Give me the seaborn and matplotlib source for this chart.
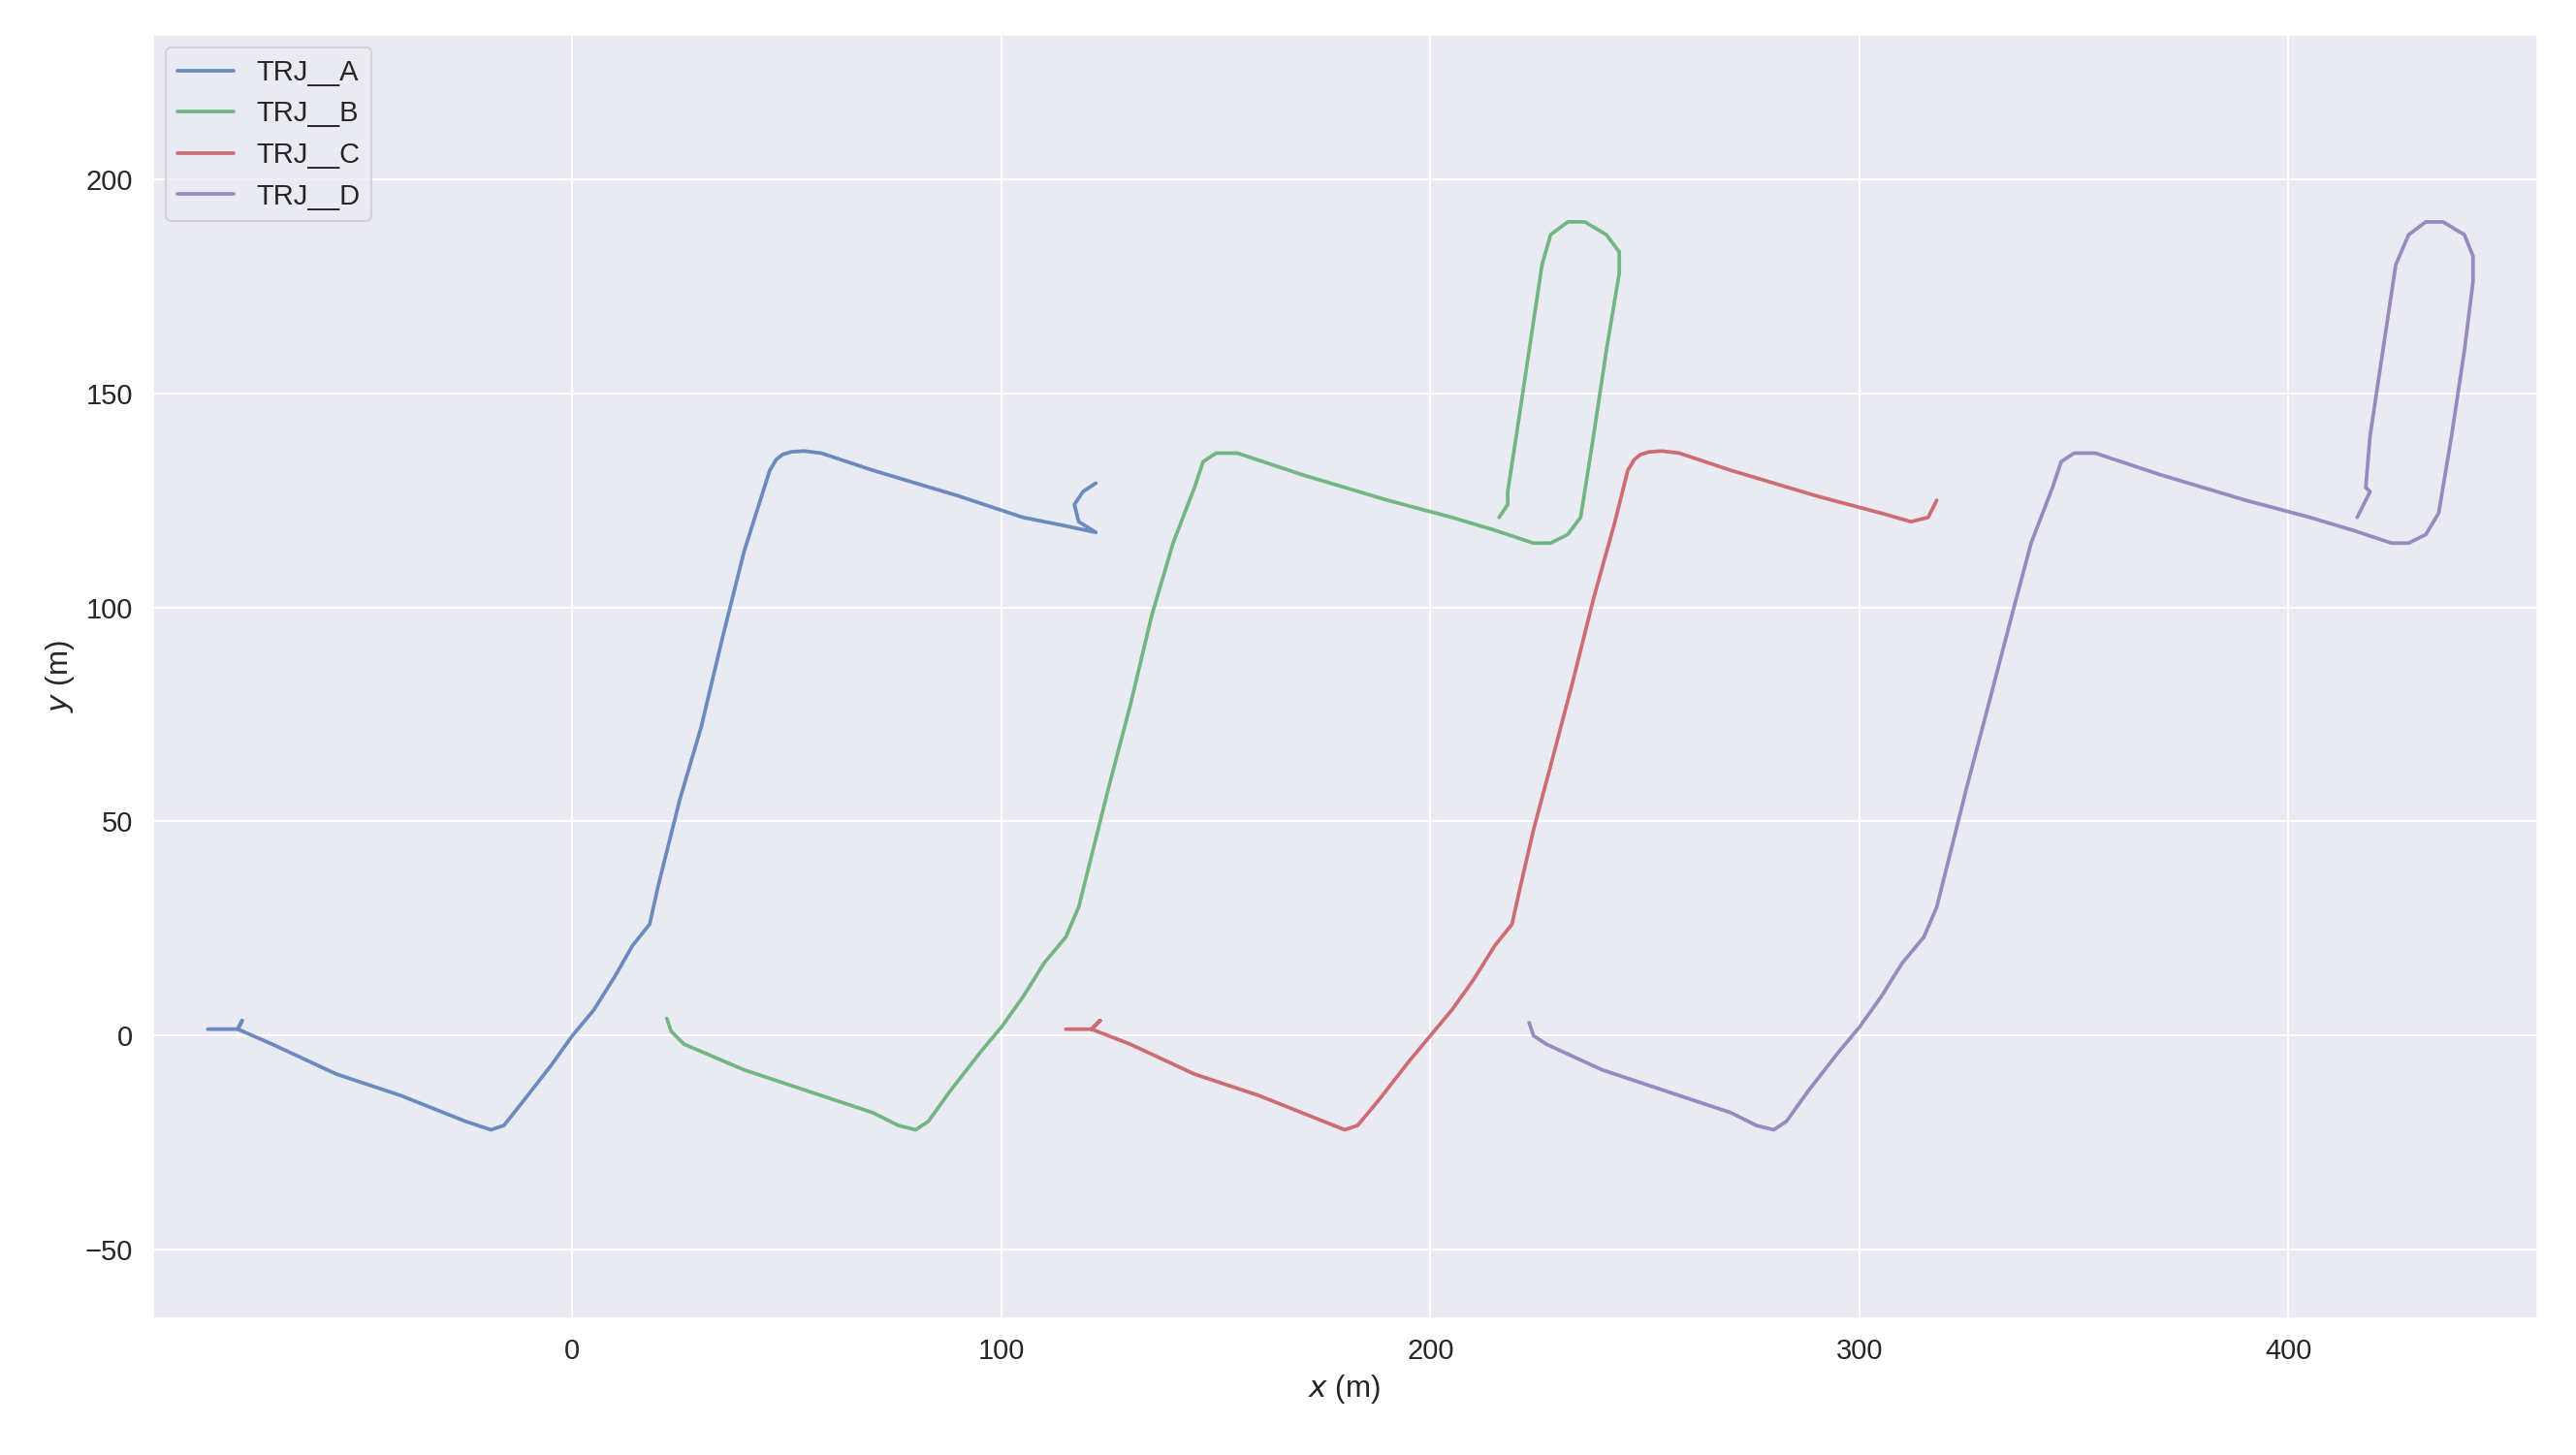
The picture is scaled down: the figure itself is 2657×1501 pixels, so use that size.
import numpy as np
import pandas as pd
import matplotlib
matplotlib.use("Agg")
import matplotlib.pyplot as plt
import seaborn as sns

# trajectory points (x, y in metres)
a_x = [-85, -78, -77, -78, -70, -55, -40, -25, -19, -16, -12, -5, 0, 5, 10, 14, 18, 20, 22, 25, 30, 35, 40, 46, 47.5, 49, 51, 54, 58, 70, 90, 105, 115, 122, 118, 117, 119, 122]
a_y = [1.5, 1.5, 3.5, 1.5, -2, -9, -14, -20, -22, -21, -16, -7, 0, 6, 14, 21, 26, 35, 43, 55, 72, 93, 113, 132, 134.5, 135.7, 136.3, 136.5, 136, 132, 126, 121, 119, 117.5, 120, 124, 127, 129]

b_x = [22, 23, 26, 40, 55, 70, 76, 80, 83, 88, 95, 100, 105, 110, 115, 118, 121, 125, 130, 135, 140, 145, 147, 150, 155, 170, 190, 205, 215, 224, 228, 232, 235, 238, 241, 244, 244, 241, 236, 232, 228, 226, 223, 220, 218, 218, 216]
b_y = [4, 1, -2, -8, -13, -18, -21, -22, -20, -13, -4, 2, 9, 17, 23, 30, 42, 58, 77, 98, 115, 128, 134, 136, 136, 131, 125, 121, 118, 115, 115, 117, 121, 140, 160, 178, 183, 187, 190, 190, 187, 180, 160, 140, 127, 124, 121]

c_x = [115, 121, 123, 121, 130, 145, 160, 175, 180, 183, 188, 195, 200, 205, 210, 215, 219, 221, 224, 228, 233, 238, 243, 246, 247.5, 249, 251, 254, 258, 270, 290, 305, 312, 316, 318]
c_y = [1.5, 1.5, 3.5, 1.5, -2, -9, -14, -20, -22, -21, -15, -6, 0, 6, 13, 21, 26, 35, 48, 63, 82, 102, 120, 132, 134.5, 135.7, 136.3, 136.5, 136, 132, 126, 122, 120, 121, 125]

d_x = [223, 224, 227, 240, 255, 270, 276, 280, 283, 288, 295, 300, 305, 310, 315, 318, 321, 325, 330, 336, 340, 345, 347, 350, 355, 370, 390, 405, 415, 424, 428, 432, 435, 438, 441, 443, 443, 441, 436, 432, 428, 425, 422, 419, 418, 419, 416]
d_y = [3, 0, -2, -8, -13, -18, -21, -22, -20, -13, -4, 2, 9, 17, 23, 30, 42, 58, 77, 100, 115, 128, 134, 136, 136, 131, 125, 121, 118, 115, 115, 117, 122, 140, 160, 176, 182, 187, 190, 190, 187, 180, 160, 140, 128, 127, 121]

names = ["TRJ__A", "TRJ__B", "TRJ__C", "TRJ__D"]
xs = [a_x, b_x, c_x, d_x]
ys = [a_y, b_y, c_y, d_y]

frames = []
for name, x, y in zip(names, xs, ys):
    frames.append(pd.DataFrame({"x": x, "y": y, "traj": name}))
df = pd.concat(frames, ignore_index=True)

sns.set_theme(style="darkgrid", rc={"font.size": 14, "xtick.labelsize": 14,
                                    "ytick.labelsize": 14, "axes.labelsize": 15,
                                    "legend.fontsize": 14})
plt.rcParams['font.family'] = ['Liberation Sans', 'DejaVu Sans']

deep = sns.color_palette("deep")
palette = [deep[0], deep[2], deep[3], deep[4]]

fig = plt.figure(figsize=(2657 / 150, 1501 / 150), dpi=150)
ax = fig.add_axes([0.059, 0.094, 0.926, 0.883])
sns.lineplot(data=df, x="x", y="y", hue="traj", units="traj", estimator=None,
             sort=False, ax=ax, linewidth=1.8, alpha=0.8, palette=palette)

ax.set_xlim(-98, 458)
ax.set_ylim(-66, 234)
ax.set_xlabel("$x$ (m)")
ax.set_ylabel("$y$ (m)")
ax.legend(loc="upper left", title=None)

fig.savefig("out.png", dpi=150)
